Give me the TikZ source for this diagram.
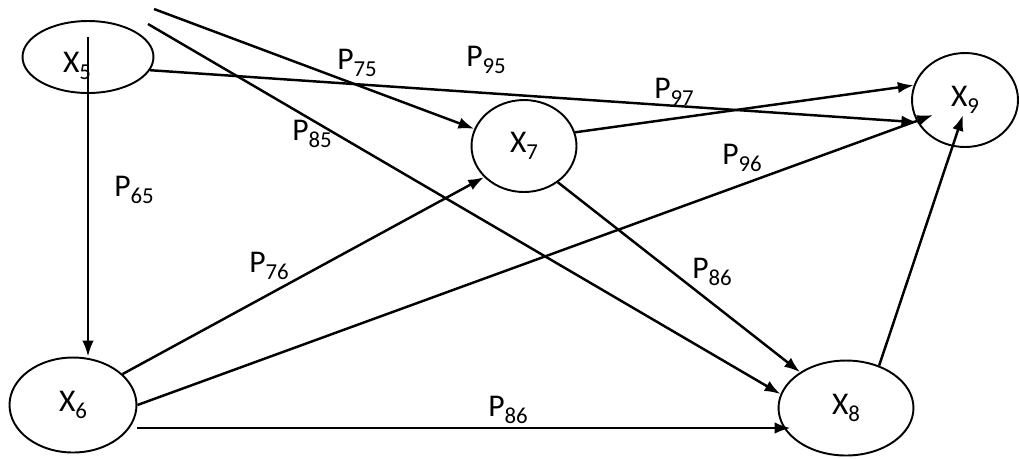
\documentclass[tikz,border=0pt]{standalone}
\usepackage{fontspec}
\setmainfont{Carlito}
\usepackage{tikz}
\usetikzlibrary{arrows.meta, shapes.geometric, calc}

\newcommand{\lowsub}[1]{\raisebox{-0.45ex}{\fontsize{13}{13}\selectfont #1}}

\begin{document}
\begin{tikzpicture}[
    x=0.02cm, y=-0.02cm,
    construct/.style={ellipse, draw=black, line width=1.1pt, inner sep=0pt, font=\fontsize{18}{21}\selectfont},
    coef/.style={inner sep=0pt, font=\fontsize{18}{21}\selectfont},
    link/.style={-{Latex[length=9pt, width=6.5pt]}, line width=1.4pt}
]
\useasboundingbox (0,0) rectangle (1020,458);

% variables
\node[construct, minimum width=2.62cm, minimum height=1.44cm,
      label={[coef, xshift=-0.22cm, yshift=-0.18cm]center:X\lowsub{5}}] (x5) at (88,57) {};
\node[construct, minimum width=2.54cm, minimum height=1.9cm] (x6) at (73,405) {X\lowsub{6}};
\node[construct, minimum width=2.1cm, minimum height=1.84cm] (x7) at (524,146) {X\lowsub{7}};
\node[construct, minimum width=2.7cm, minimum height=1.9cm] (x8) at (846,408) {X\lowsub{8}};
\node[construct, minimum width=2.12cm, minimum height=1.88cm] (x9) at (965,100) {X\lowsub{9}};

% loose starts at the top edge
\coordinate (s1) at (154,9);
\coordinate (s2) at (148,24);

% paths
\draw[link] ($(x5.north)+(0,17)$) -- (x5 |- x6.north);
\draw[link] (s1) -- (x7.161);
\draw[link] (s2) -- (x8.168);
\draw[link] (x5.348) -- (x9.205);
\draw[link] (x7.15) -- (x9.164);
\draw[link] (x7.-47) -- (x8.142);
\draw[link] (x6.32) -- (x7.218);
\draw[link] (x6.east) -- ($(x9.center)+(-32,15)$);
\draw[link] ($(x6.east)+(0,23)$) -- ($(x8.west)+(13,20)$);
\draw[link] (x8.52) -- ($(x9.center)+(-2,15)$);

% coefficients
\node[coef] (p75) at (357,63) {P\lowsub{75}};
\node[coef] (p95) at (486,60) {P\lowsub{95}};
\node[coef] (p85) at (312,134) {P\lowsub{85}};
\node[coef] (p97) at (674,92) {P\lowsub{97}};
\node[coef] (p96) at (742,158) {P\lowsub{96}};
\node[coef] (p65) at (134,190) {P\lowsub{65}};
\node[coef] (p76) at (269,266) {P\lowsub{76}};
\node[coef] (p86a) at (712,272) {P\lowsub{86}};
\node[coef] (p86b) at (508,410) {P\lowsub{86}};
\end{tikzpicture}
\end{document}
